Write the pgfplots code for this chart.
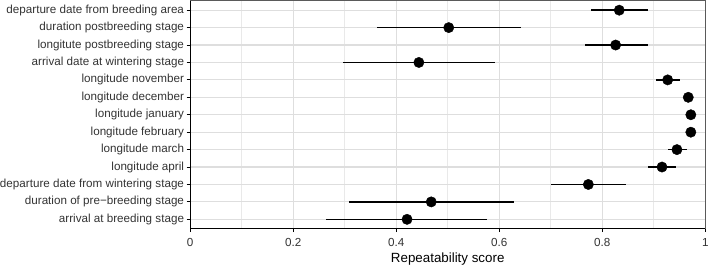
\documentclass[border=0pt]{standalone}
\usepackage{pgfplots}
\pgfplotsset{compat=1.18}
\usepackage{pgfplotstable}
\usepackage{fontspec}
\setmainfont{Liberation Sans}
\definecolor{ticktxt}{HTML}{333333}
\definecolor{gridc}{HTML}{DEDEDE}
\definecolor{gridm}{HTML}{E9E9E9}
\definecolor{border}{HTML}{5A5A5A}
\pgfplotstableread{
row est lo hi
13 0.833 0.778 0.888
12 0.502 0.363 0.642
11 0.826 0.766 0.888
10 0.444 0.297 0.592
9 0.927 0.904 0.951
8 0.967 0.958 0.976
7 0.972 0.966 0.978
6 0.972 0.966 0.978
5 0.945 0.928 0.964
4 0.916 0.889 0.944
3 0.773 0.700 0.847
2 0.468 0.309 0.629
1 0.421 0.263 0.577
}\rep
\begin{document}
\begin{tikzpicture}[x=1bp,y=1bp]
\begin{axis}[
  scale only axis,
  width=517bp, height=229bp,
  xmin=0, xmax=1,
  ymin=0.46, ymax=13.55,
  xtick={0,0.2,0.4,0.6,0.8,1},
  xticklabels={0,0.2,0.4,0.6,0.8,1},
  minor x tick num=1,
  ytick={1,...,13},
  yticklabels={arrival at breeding stage,duration of pre{\char"2212}breeding stage,departure date from wintering stage,longitude april,longitude march,longitude february,longitude january,longitude december,longitude november,arrival date at wintering stage,longitute postbreeding stage,duration postbreeding stage,departure date from breeding area},
  tick label style={font=\fontsize{11.7bp}{13bp}\selectfont, text=ticktxt},
  xlabel={Repeatability score},
  xlabel style={font=\fontsize{13.4bp}{15bp}\selectfont, text=black, yshift=1bp},
  grid=both,
  major grid style={gridc, line width=1.2bp},
  minor grid style={gridm, line width=0.9bp},
  axis line style={border, line width=1bp},
  tick align=outside,
  major tick length=3.5bp,
  minor tick length=0bp,
  tick style={black, line width=0.9bp},
  xtick pos=bottom, ytick pos=left,
  xticklabel style={yshift=-3bp, inner xsep=0.5pt},
  yticklabel style={inner xsep=0pt, xshift=-2.5bp},
]
\addplot[
  only marks, mark=*, mark size=5.2bp, mark options={fill=black, draw=black},
  error bars/.cd, x dir=both, x explicit,
  error mark=none, error bar style={line width=1.6bp, black},
] table[x=est, y=row,
  x error plus expr=\thisrow{hi}-\thisrow{est},
  x error minus expr=\thisrow{est}-\thisrow{lo}] {\rep};
\draw[black, line width=1.1bp] (rel axis cs:0,1) -- (rel axis cs:0,0) -- (rel axis cs:1,0);
\end{axis}
\end{tikzpicture}
\end{document}
